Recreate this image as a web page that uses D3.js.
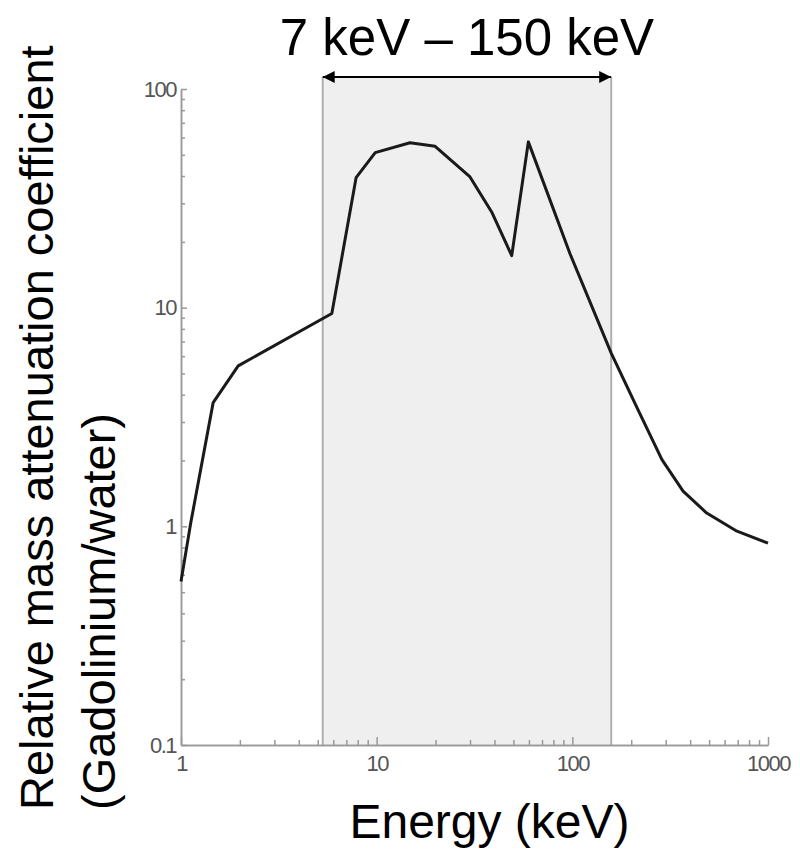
<!DOCTYPE html>
<html>
<head>
<meta charset="utf-8">
<script src="https://cdn.jsdelivr.net/npm/d3@7"></script>
<style>
  body { margin: 0; background: #fff; }
  svg text { font-family: "Liberation Sans", Arial, sans-serif; }
</style>
</head>
<body>
<svg id="chart" width="800" height="850"></svg>
<script>
// energy (keV) and relative attenuation
const energy = [1.0, 1.12, 1.46, 1.96, 5.9, 7.85, 9.83, 14.8, 19.9, 30, 38.7, 49, 59.6,
                97.4, 158, 214, 287, 368, 486, 694, 1000];
const ratio  = [0.56, 1.03, 3.68, 5.42, 9.4, 39.3, 51.2, 56.8, 54.7, 39.6, 27.4, 17.3, 57.3,
                17.6, 6.2, 3.49, 2.02, 1.45, 1.15, 0.95, 0.838];
const band = [5.3, 158];            // shaded window, as drawn
const bandLabel = "7 keV \u2013 150 keV";
const xTicks = [1, 10, 100, 1000];
const yTicks = [0.1, 1, 10, 100];

const svg = d3.select("#chart");
const mLeft = 181, mRight = 768, mTop = 89, mBottom = 745;

const x = d3.scaleLog().domain([1, 1000]).range([mLeft, mRight]);
const y = d3.scaleLog().domain([0.1, 100]).range([mBottom, mTop]);

// minor ticks 2..9 in each decade
const minorX = [], minorY = [];
xTicks.slice(0, -1).forEach(d => { for (let k = 2; k < 10; k++) minorX.push(d * k); });
yTicks.slice(0, -1).forEach(d => { for (let k = 2; k < 10; k++) minorY.push(d * k); });

// arrow head
svg.append("defs").append("marker")
    .attr("id", "head")
    .attr("viewBox", "0 0 10 10")
    .attr("refX", 10).attr("refY", 5)
    .attr("markerWidth", 15).attr("markerHeight", 12)
    .attr("markerUnits", "userSpaceOnUse")
    .attr("orient", "auto-start-reverse")
  .append("path")
    .attr("d", "M0,0L10,5L0,10Z")
    .attr("fill", "#000");

// shaded band
const bandTop = 77;
svg.append("rect")
    .attr("x", x(band[0])).attr("y", bandTop)
    .attr("width", x(band[1]) - x(band[0])).attr("height", mBottom - bandTop)
    .attr("fill", "#efefef");
band.forEach(b => {
    svg.append("line")
        .attr("x1", x(b)).attr("x2", x(b))
        .attr("y1", bandTop).attr("y2", mBottom)
        .attr("stroke", "#b0b0b0").attr("stroke-width", 2);
});

svg.append("line")
    .attr("x1", x(band[0])).attr("x2", x(band[1]))
    .attr("y1", bandTop).attr("y2", bandTop)
    .attr("stroke", "#000").attr("stroke-width", 2)
    .attr("marker-start", "url(#head)")
    .attr("marker-end", "url(#head)");

svg.append("text")
    .attr("x", (x(band[0]) + x(band[1])) / 2).attr("y", 55)
    .attr("text-anchor", "middle")
    .attr("font-size", 51)
    .attr("fill", "#000")
    .text(bandLabel);

// axes
function styleAxis(g) {
    g.select(".domain").attr("stroke", "#999").attr("stroke-width", 1.5);
    g.selectAll(".tick line").attr("stroke", "#999").attr("stroke-width", 1.5);
    g.selectAll(".tick text").attr("fill", "#555").attr("font-size", 22)
        .attr("letter-spacing", -1.5).attr("font-family", "'Liberation Sans', Arial, sans-serif");
}

svg.append("g")
    .attr("transform", `translate(0,${mBottom})`)
    .call(d3.axisBottom(x).tickValues(minorX).tickSize(-5).tickSizeOuter(0).tickFormat(""))
    .call(styleAxis);
svg.append("g")
    .attr("transform", `translate(0,${mBottom})`)
    .call(d3.axisBottom(x).tickValues(xTicks).tickSize(-8).tickSizeOuter(0)
        .tickPadding(10).tickFormat(d3.format("~g")))
    .call(styleAxis);

svg.append("g")
    .attr("transform", `translate(${mLeft},0)`)
    .call(d3.axisLeft(y).tickValues(minorY).tickSize(-4).tickSizeOuter(0).tickFormat(""))
    .call(styleAxis);
svg.append("g")
    .attr("transform", `translate(${mLeft},0)`)
    .call(d3.axisLeft(y).tickValues(yTicks).tickSize(-6).tickSizeOuter(0)
        .tickPadding(5).tickFormat(d3.format("~g")))
    .call(styleAxis);

// curve
const pts = energy.map((e, i) => [e, ratio[i]]);
svg.append("path")
    .datum(pts)
    .attr("d", d3.line().x(d => x(d[0])).y(d => y(d[1])))
    .attr("fill", "none")
    .attr("stroke", "#1a1a1a")
    .attr("stroke-width", 3)
    .attr("stroke-linejoin", "round");

// axis titles
svg.append("text")
    .attr("x", (mLeft + mRight) / 2 + 15).attr("y", 838)
    .attr("text-anchor", "middle")
    .attr("font-size", 48)
    .attr("fill", "#000")
    .text("Energy (keV)");

const yTitle = svg.append("text")
    .attr("transform", "translate(0,810) rotate(-90)")
    .attr("font-size", 47)
    .attr("fill", "#000");
yTitle.append("tspan").attr("x", 0).attr("y", 53).text("Relative mass attenuation coefficient");
yTitle.append("tspan").attr("x", 0).attr("y", 115).text("(Gadolinium/water)");
</script>
</body>
</html>
